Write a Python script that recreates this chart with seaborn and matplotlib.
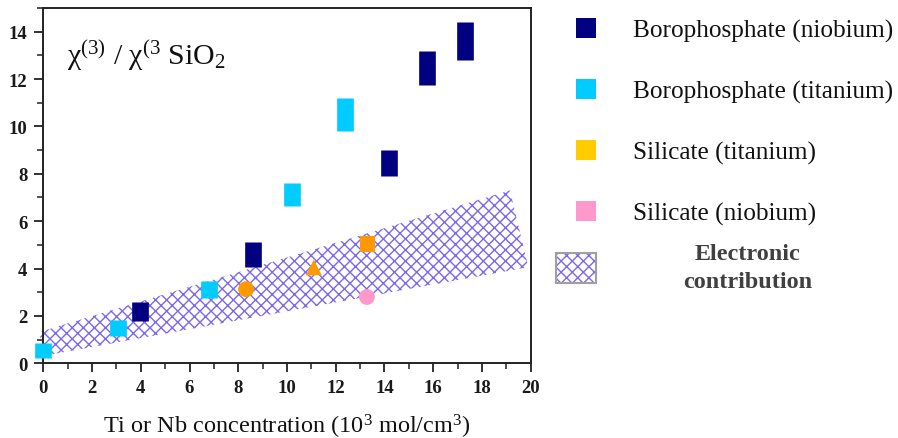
import numpy as np
import pandas as pd
import matplotlib
matplotlib.use("Agg")
import matplotlib.pyplot as plt
from matplotlib.lines import Line2D
from matplotlib.patches import Patch
from matplotlib.legend_handler import HandlerTuple
from matplotlib.ticker import MultipleLocator
import seaborn as sns

# Borophosphate glasses: concentration and measured chi(3) range (low/high)
nb_x = [3.97, 8.62, 14.2, 15.75, 17.3]
nb_lo = [1.78, 4.05, 7.9, 11.75, 12.8]
nb_hi = [2.58, 5.12, 9.0, 13.2, 14.4]

ti_x = [0.0, 3.07, 6.79, 10.2, 12.38]
ti_lo = [0.21, 1.14, 2.75, 6.65, 9.8]
ti_hi = [0.85, 1.82, 3.47, 7.62, 11.2]

# Silicate glasses
sil_ti_x = [8.32, 11.1, 13.3]
sil_ti_y = [3.13, 4.05, 5.03]
sil_ti_shape = ["circle", "triangle", "square"]

sil_nb_x = [13.28]
sil_nb_y = [2.8]

# Electronic contribution band (polygon corners)
band_x = [-0.2, 19.15, 19.9, 0.15]
band_y = [1.31, 7.3, 4.06, 0.34]

labels = ["Borophosphate (niobium)", "Borophosphate (titanium)",
          "Silicate (titanium)", "Silicate (niobium)"]
band_label = "Electronic\ncontribution"

NAVY = "#000080"
CYAN = "#00CCFF"
ORANGE = "#FF9900"
YELLOW = "#FFCC00"
PINK = "#FF99CC"
HATCH = "#7B68EE"

sns.set_theme(style="ticks")
plt.rcParams["font.family"] = ["Liberation Serif", "DejaVu Serif"]
plt.rcParams["mathtext.fontset"] = "custom"
plt.rcParams["mathtext.rm"] = "Liberation Serif"
plt.rcParams["mathtext.it"] = "Liberation Serif:italic"
plt.rcParams["hatch.linewidth"] = 1.0

fig = plt.figure(figsize=(8.98, 4.39), dpi=100)
ax = fig.add_axes([43.3 / 898, 1 - 364.3 / 439, 487.4 / 898, 355.3 / 439])

# hatched band
ax.fill(band_x, band_y, facecolor="none", edgecolor=HATCH, hatch="xxx",
        linewidth=0, clip_on=False, zorder=1)

# range markers
ax.vlines(nb_x, nb_lo, nb_hi, colors=NAVY, linewidth=12, zorder=3,
          clip_on=False)
ax.vlines(ti_x, ti_lo, ti_hi, colors=CYAN, linewidth=12, zorder=3,
          clip_on=False)

sil = pd.DataFrame({"x": sil_ti_x + sil_nb_x,
                    "y": sil_ti_y + sil_nb_y,
                    "shape": sil_ti_shape + ["circle"],
                    "glass": ["ti"] * 3 + ["nb"]})
sns.scatterplot(data=sil, x="x", y="y", hue="glass", style="shape",
                palette={"ti": ORANGE, "nb": PINK},
                markers={"circle": "o", "triangle": "^", "square": "s"},
                s=130, linewidth=0, legend=False, zorder=4, ax=ax)

ax.set_xlim(0, 20)
ax.set_ylim(0, 15)
ax.xaxis.set_major_locator(MultipleLocator(2))
ax.xaxis.set_minor_locator(MultipleLocator(1))
ax.yaxis.set_major_locator(MultipleLocator(2))
ax.yaxis.set_minor_locator(MultipleLocator(1))
ax.set_yticks(np.arange(0, 15, 2))
for s in ax.spines.values():
    s.set_linewidth(1.4)
    s.set_color("#222222")
ax.tick_params(which="major", direction="out", length=6.5, width=1.3,
               labelsize=13.5, pad=5, colors="#222222", labelcolor="#1a1a1a")
ax.tick_params(which="minor", direction="out", length=4, width=1.1,
               colors="#222222")
for lab in ax.get_xticklabels() + ax.get_yticklabels():
    lab.set_fontweight("bold")

ax.set_xlabel("Ti or Nb concentration (10$^3$ mol/cm$^3$)", fontsize=17.5,
              labelpad=11, color="#111111")
ax.set_ylabel("")

ax.text(0.97, 12.64, r"$\mathrm{χ}^{(3)}$ / $\mathrm{χ}^{(3}$ SiO$_2$",
        fontsize=21.5, va="baseline", ha="left", color="#111111")

# legend for the measured series
handles = [Line2D([], [], linestyle="none", marker="s", markersize=14.5,
                  markerfacecolor=c, markeredgewidth=0)
           for c in (NAVY, CYAN, YELLOW, PINK)]
leg1 = fig.legend(handles, labels, loc="upper left",
                  bbox_to_anchor=(571.5 / 898, 1 - 20 / 439),
                  frameon=False, fontsize=18.2, handlelength=1.12,
                  handletextpad=1.33, labelspacing=1.5, borderpad=0,
                  borderaxespad=0)
for t in leg1.get_texts():
    t.set_color("#111111")

# legend for the electronic band
hp = Patch(facecolor="white", edgecolor=HATCH, hatch="xxx", linewidth=0)
bp = Patch(facecolor="none", edgecolor="#a0a0a0", linewidth=1.5)
leg2 = fig.legend([(hp, bp)], [band_label], loc="upper left",
                  handler_map={tuple: HandlerTuple(ndivide=1)},
                  bbox_to_anchor=(556 / 898, 1 - 244 / 439),
                  frameon=False, fontsize=17.4, handlelength=1.65,
                  handleheight=1.55, handletextpad=3.6, borderpad=0,
                  borderaxespad=0)
for t in leg2.get_texts():
    t.set_fontweight("bold")
    t.set_color("#404040")
    t.set_multialignment("center")
    t.set_linespacing(1.45)

fig.savefig("out.png", dpi=100)
